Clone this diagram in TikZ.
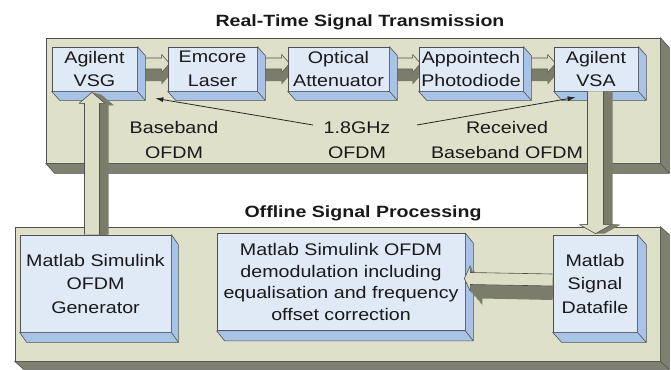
\documentclass[tikz,border=0pt]{standalone}
\usepackage{fontspec}
\setmainfont{Liberation Sans}[FakeStretch=1.17]
\newfontfamily\ttlfont{Liberation Sans}[FakeStretch=1.2]
\usetikzlibrary{calc,arrows.meta}
\pgfdeclarelayer{bg}
\pgfdeclarelayer{mid}
\pgfsetlayers{bg,mid,main}
\definecolor{panelfill}{HTML}{DEE0C9}
\definecolor{paneldark}{HTML}{7E8070}
\definecolor{boxfill}{HTML}{E0E9F6}
\definecolor{boxdark}{HTML}{A9C3E7}
\definecolor{arrlight}{HTML}{DCDFC5}
\definecolor{arrdark}{HTML}{7B7D6B}
\definecolor{edge}{HTML}{505050}
\tikzset{
  panel/.style={draw=edge, line width=0.7pt, fill=panelfill, inner sep=0pt},
  ibox/.style={draw=edge, line width=0.7pt, fill=boxfill, inner sep=1pt, align=center,
    font=\fontsize{16.8}{23.5}\selectfont, text=black!90},
  ttl/.style={font=\ttlfont\bfseries\fontsize{16.3}{18}\selectfont, text=black!90},
  lbl/.style={align=center, font=\fontsize{16.8}{24.5}\selectfont, text=black!90},
  afront/.style={fill=arrlight, draw=edge, line width=0.6pt, line join=round},
  aback/.style={fill=arrdark},
  thinarr/.style={draw=black!85, line width=0.8pt, -{Latex[length=8pt,width=5pt]}}
}
% depth of a 3D box: node, dx, dy, colour
\newcommand\boxdepth[4]{%
  \filldraw[fill=#4, draw=edge, line width=0.6pt, line join=round]
    (#1.north east) -- ++(#2,#3) -- ($(#1.south east)+(#2,#3)$)
    -- ($(#1.south west)+(#2,#3)$) -- (#1.south west) -- (#1.south east) -- cycle;
  \draw[edge, line width=0.6pt] (#1.south east) -- ++(#2,#3);
}
% right pointing 3D block arrow between two boxes
\newcommand\rarrow[2]{%
  \foreach \k in {8,...,1}{%
    \pgfmathsetmacro\dd{\k*1.5}%
    \fill[aback] ($(#1.east)+(0,-11+\dd)$) -- ($(#2.west)+(-6,-11+\dd)$)
      -- ($(#2.west)+(-6,-14.5+\dd)$) -- ($(#2.west)+(2,-5.5+\dd)$)
      -- ($(#2.west)+(-6,3.5+\dd)$) -- ($(#2.west)+(-6,\dd)$)
      -- ($(#1.east)+(0,\dd)$) -- cycle;
  }
  \filldraw[afront] ($(#1.east)+(0,-11)$) -- ($(#2.west)+(-6,-11)$)
      -- ($(#2.west)+(-6,-14.5)$) -- ($(#2.west)+(2,-5.5)$)
      -- ($(#2.west)+(-6,3.5)$) -- ($(#2.west)+(-6,0)$)
      -- ($(#1.east)+(0,0)$);
}
\begin{document}
\begin{tikzpicture}[x=1pt,y=-1pt]
\useasboundingbox (0,0) rectangle (671,369);

% panels
\begin{pgfonlayer}{bg}
\node[panel, minimum width=614pt, minimum height=125pt] (top) at (353,100.5) {};
\boxdepth{top}{9}{10}{paneldark}
\node[panel, minimum width=645pt, minimum height=134pt] (bot) at (337.5,294) {};
\boxdepth{bot}{9}{8}{paneldark}
\end{pgfonlayer}

\node[ttl] (t1) at (360,22) {Real-Time Signal Transmission};
\node[ttl] (t2) at (363,213) {Offline Signal Processing};

% inner boxes
\node[ibox, minimum width=85pt, minimum height=44pt] (vsg) at (94.5,69) {Agilent\\VSG};
\boxdepth{vsg}{8}{9}{boxdark}
\node[ibox, minimum width=89pt, minimum height=44pt] (laser) at (212.5,69) {Emcore\\Laser};
\boxdepth{laser}{8}{9}{boxdark}
\node[ibox, minimum width=101pt, minimum height=44pt] (att) at (338.5,69) {Optical\\Attenuator};
\boxdepth{att}{8}{9}{boxdark}
\node[ibox, minimum width=104pt, minimum height=44pt, inner sep=0pt] (pd) at (471,69) {Appointech\\Photodiode};
\boxdepth{pd}{8}{9}{boxdark}
\node[ibox, minimum width=84pt, minimum height=44pt] (vsa) at (596,69) {Agilent\\VSA};
\boxdepth{vsa}{8}{9}{boxdark}

\node[ibox, minimum width=151pt, minimum height=97pt] (gen) at (95.5,283.5) {Matlab Simulink\\OFDM\\Generator};
\boxdepth{gen}{7}{10}{boxdark}
\node[ibox, minimum width=248pt, minimum height=97pt, font=\fontsize{16.8}{21.5}\selectfont] (demod) at (341,282) {Matlab Simulink OFDM\\demodulation including\\equalisation and frequency\\offset correction};
\boxdepth{demod}{8}{10}{boxdark}
\node[ibox, minimum width=84pt, minimum height=97pt] (data) at (595,283.5) {Matlab\\Signal\\Datafile};
\boxdepth{data}{9}{10}{boxdark}

% horizontal block arrows of the top row (behind the boxes)
\begin{pgfonlayer}{mid}
\rarrow{vsg}{laser}
\rarrow{laser}{att}
\rarrow{att}{pd}
\rarrow{pd}{vsa}
\end{pgfonlayer}

% up arrow: generator -> VSG
\foreach \k in {8,...,1}{%
  \pgfmathsetmacro\ax{\k*9/8}\pgfmathsetmacro\ay{\k*2/8}%
  \fill[aback] ($(vsg.south |- gen.north)+(-10+\ax,0)$) -- ($(vsg.south)+(-10+\ax,12+\ay)$)
    -- ($(vsg.south)+(-15.5+\ax,12+\ay)$) -- ($(vsg.south)+(-2.5+\ax,1+\ay)$)
    -- ($(vsg.south)+(10.5+\ax,12+\ay)$) -- ($(vsg.south)+(5+\ax,12+\ay)$)
    -- ($(vsg.south |- gen.north)+(5+\ax,0)$) -- cycle;
}
\filldraw[afront] ($(vsg.south |- gen.north)+(-10,0)$) -- ($(vsg.south)+(-10,12)$)
    -- ($(vsg.south)+(-15.5,12)$) -- ($(vsg.south)+(-2.5,1)$)
    -- ($(vsg.south)+(10.5,12)$) -- ($(vsg.south)+(5,12)$)
    -- ($(vsg.south |- gen.north)+(5,0)$);

% down arrow: VSA -> datafile
\foreach \k in {8,...,1}{%
  \pgfmathsetmacro\ax{\k*9/8}%
  \fill[aback] ($(vsa.south)+(-8.5+\ax,0)$) -- ($(vsa.south |- data.north)+(-8.5+\ax,-10)$)
    -- ($(vsa.south |- data.north)+(-16.5+\ax,-10)$) -- ($(vsa.south |- data.north)+(-0.5+\ax,-1)$)
    -- ($(vsa.south |- data.north)+(15.5+\ax,-10)$) -- ($(vsa.south |- data.north)+(7.5+\ax,-10)$)
    -- ($(vsa.south)+(7.5+\ax,0)$) -- cycle;
}
\filldraw[afront] ($(vsa.south)+(-8.5,0)$) -- ($(vsa.south |- data.north)+(-8.5,-10)$)
    -- ($(vsa.south |- data.north)+(-16.5,-10)$) -- ($(vsa.south |- data.north)+(-0.5,-1)$)
    -- ($(vsa.south |- data.north)+(15.5,-10)$) -- ($(vsa.south |- data.north)+(7.5,-10)$)
    -- ($(vsa.south)+(7.5,0)$);

% left arrow: datafile -> demodulation
\foreach \k in {8,...,1}{%
  \pgfmathsetmacro\ax{\k*12/8}\pgfmathsetmacro\ay{\k*14/8}%
  \fill[aback] ($(data.west)+(0,-9.5+\ay)$) -- ($(demod.east)+(5+\ax,-9.5+\ay)$)
    -- ($(demod.east)+(5+\ax,-16.5+\ay)$) -- ($(demod.east)+(-1+\ax,-3.5+\ay)$)
    -- ($(demod.east)+(5+\ax,9.5+\ay)$) -- ($(demod.east)+(5+\ax,2.5+\ay)$)
    -- ($(data.west)+(0,2.5+\ay)$) -- cycle;
}
\filldraw[afront] ($(data.west)+(0,-9.5)$) -- ($(demod.east)+(5,-9.5)$)
    -- ($(demod.east)+(5,-16.5)$) -- ($(demod.east)+(-1,-3.5)$)
    -- ($(demod.east)+(5,9.5)$) -- ($(demod.east)+(5,2.5)$)
    -- ($(data.west)+(0,2.5)$);

% labels
\node[lbl] (bb) at (174,140) {Baseband\\OFDM};
\node[lbl] (ghz) at (357,140) {1.8GHz\\OFDM};
\node[lbl] (rx) at (507,140) {Received\\Baseband OFDM};

\coordinate (g1) at (313,125);
\coordinate (g2) at (417,125);
\draw[thinarr] (g1) -- ($(vsg.south east)+(18,7)$);
\draw[thinarr] (g2) -- ($(vsa.south west)+(22,6)$);
\end{tikzpicture}
\end{document}
